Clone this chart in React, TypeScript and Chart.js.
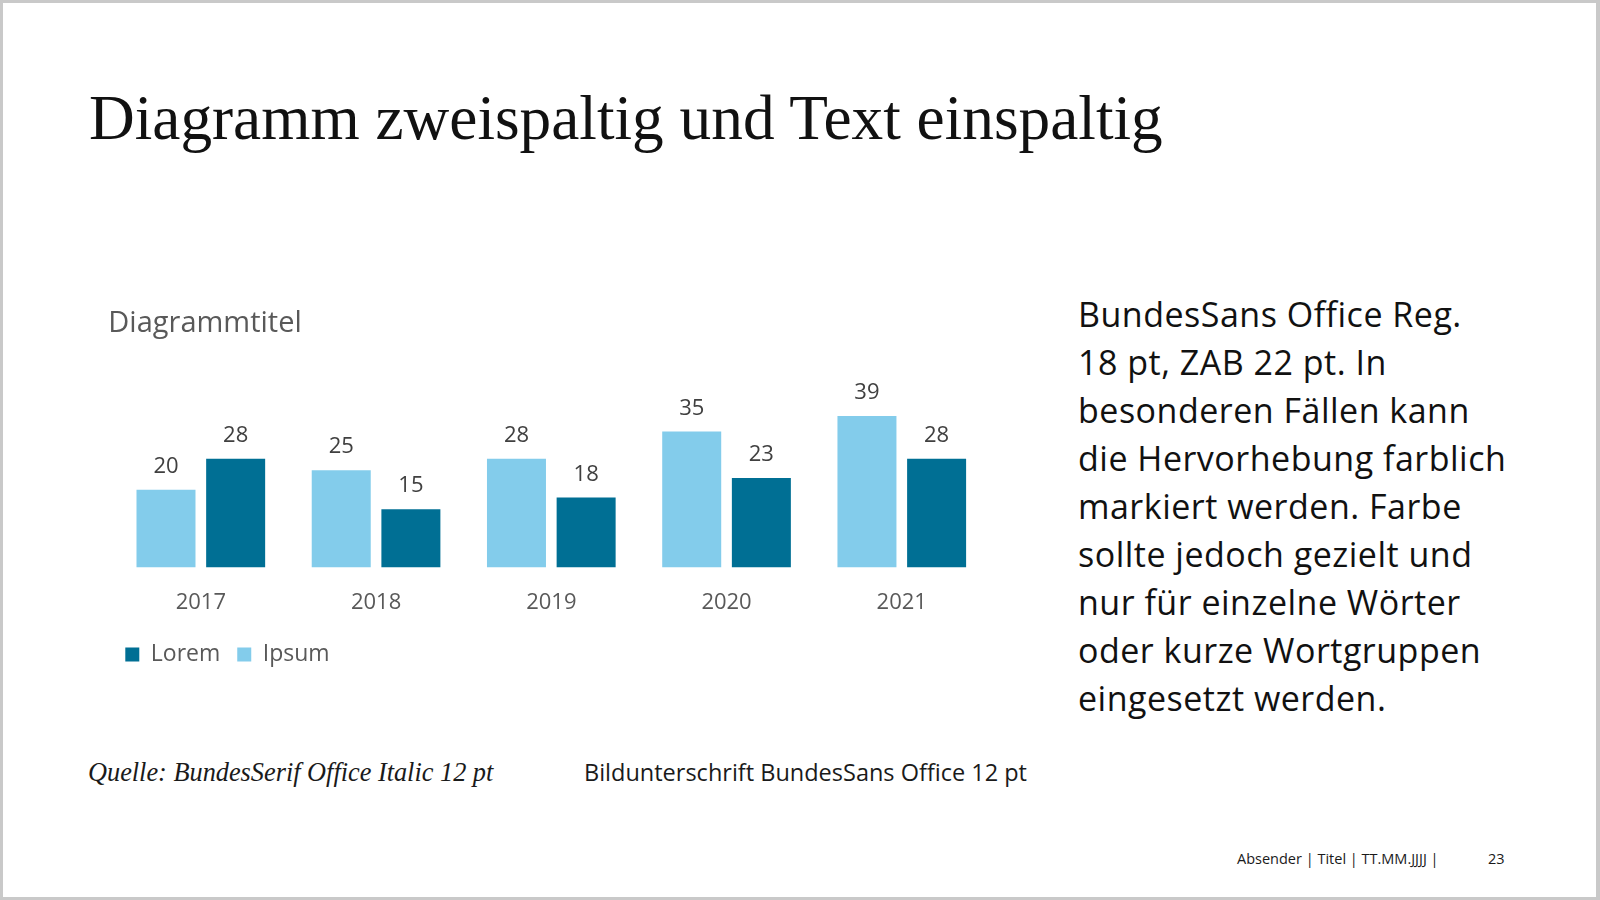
import React, { useEffect, useRef } from "react";
import { Chart, registerables } from "chart.js";

Chart.register(...registerables);

const categories = ["2017", "2018", "2019", "2020", "2021"];
const ipsumValues = [20, 25, 28, 35, 39];
const loremValues = [28, 15, 18, 23, 28];
const seriesNames = ["Ipsum", "Lorem"];
const chartTitle = "Diagrammtitel";

const slideTitle = "Diagramm zweispaltig und Text einspaltig";
const paragraphLines = [
  "BundesSans Office Reg.",
  "18 pt, ZAB 22 pt. In",
  "besonderen Fällen kann",
  "die Hervorhebung farblich",
  "markiert werden. Farbe",
  "sollte jedoch gezielt und",
  "nur für einzelne Wörter",
  "oder kurze Wortgruppen",
  "eingesetzt werden.",
];
const sourceText = "Quelle: BundesSerif Office Italic 12 pt";
const captionText = "Bildunterschrift BundesSans Office 12 pt";
const footerText = "Absender | Titel | TT.MM.JJJJ |";
const pageNumber = "23";

const LIGHT = "#83CCEB";
const DARK = "#006F94";
const SANS = '"Open Sans", "Noto Sans", sans-serif';

const valueLabels = {
  id: "valueLabels",
  afterDatasetsDraw(chart: any) {
    const ctx = chart.ctx;
    ctx.save();
    ctx.font = `22px ${SANS}`;
    ctx.fillStyle = "#404040";
    ctx.textAlign = "center";
    ctx.textBaseline = "alphabetic";
    chart.data.datasets.forEach((ds: any, i: number) => {
      const meta = chart.getDatasetMeta(i);
      meta.data.forEach((el: any, j: number) => {
        ctx.fillText(String(ds.data[j]), el.x, el.y - 17);
      });
    });
    ctx.restore();
  },
};

function BarChart() {
  const ref = useRef<HTMLCanvasElement | null>(null);
  useEffect(() => {
    if (!ref.current) return;
    const chart = new Chart(ref.current, {
      type: "bar",
      data: {
        labels: categories,
        datasets: [
          {
            label: seriesNames[0],
            data: ipsumValues,
            backgroundColor: LIGHT,
            borderWidth: 0,
            categoryPercentage: 0.795,
            barPercentage: 0.847,
          },
          {
            label: seriesNames[1],
            data: loremValues,
            backgroundColor: DARK,
            borderWidth: 0,
            categoryPercentage: 0.795,
            barPercentage: 0.847,
          },
        ],
      },
      options: {
        responsive: false,
        animation: false,
        layout: { padding: { left: 8.3, right: 10.6, top: 0, bottom: 0 } },
        scales: {
          x: {
            grid: { display: false, drawTicks: false },
            border: { display: false },
            ticks: {
              color: "#595959",
              font: { family: SANS, size: 22 },
              padding: 21.8,
            },
            afterFit: (s: any) => {
              s.height = 58.6;
            },
          },
          y: {
            min: 0,
            max: 48,
            grid: { display: false, drawTicks: false },
            border: { display: false },
            ticks: { display: false },
            afterFit: (s: any) => {
              s.width = 4.9;
            },
          },
        },
        plugins: {
          title: {
            display: true,
            text: chartTitle,
            align: "start",
            color: "#595959",
            font: { family: SANS, size: 29, weight: "normal" },
            padding: { top: 16.1, bottom: 40.16 },
          },
          legend: {
            position: "bottom",
            align: "start",
            labels: {
              boxWidth: 14,
              boxHeight: 14,
              padding: 17,
              color: "#595959",
              font: { family: SANS, size: 23 },
              sort: (a: any, b: any) => b.datasetIndex - a.datasetIndex,
            },
          },
          tooltip: { enabled: false },
        },
      },
      plugins: [valueLabels],
    } as any);
    return () => chart.destroy();
  }, []);
  return (
    <canvas
      ref={ref}
      width={900}
      height={386}
      style={{ position: "absolute", left: 100, top: 290, width: 900, height: 386 }}
    />
  );
}

export default function App() {
  return (
    <div
      style={{
        position: "fixed",
        left: 0,
        top: 0,
        width: 1600,
        height: 900,
        background: "#fff",
        overflow: "hidden",
      }}
    >
      <div
        style={{
          position: "absolute",
          left: 89,
          top: 86.5,
          fontFamily: '"Liberation Serif", serif',
          fontSize: 63.3,
          lineHeight: "63px",
          color: "#111",
          whiteSpace: "nowrap",
        }}
      >
        {slideTitle}
      </div>
      <BarChart />
      <div
        style={{
          position: "absolute",
          left: 1078,
          top: 289.6,
          fontFamily: SANS,
          fontSize: 34,
          letterSpacing: "0.5px",
          lineHeight: "48px",
          color: "#111",
          whiteSpace: "nowrap",
        }}
      >
        {paragraphLines.map((l, i) => (
          <div key={i}>{l}</div>
        ))}
      </div>
      <div
        style={{
          position: "absolute",
          left: 88,
          top: 760,
          fontFamily: '"Liberation Serif", serif',
          fontStyle: "italic",
          fontSize: 26.3,
          lineHeight: "26px",
          color: "#1a1a1a",
          whiteSpace: "nowrap",
        }}
      >
        {sourceText}
      </div>
      <div
        style={{
          position: "absolute",
          left: 584,
          top: 761.3,
          fontFamily: SANS,
          fontSize: 23.5,
          lineHeight: "23px",
          color: "#1a1a1a",
          whiteSpace: "nowrap",
        }}
      >
        {captionText}
      </div>
      <div
        style={{
          position: "absolute",
          left: 1237,
          top: 850.5,
          fontFamily: SANS,
          fontSize: 14.5,
          lineHeight: "15px",
          color: "#1a1a1a",
          whiteSpace: "nowrap",
        }}
      >
        {footerText}
      </div>
      <div
        style={{
          position: "absolute",
          left: 1488,
          top: 850.5,
          fontFamily: SANS,
          fontSize: 14.5,
          lineHeight: "15px",
          color: "#1a1a1a",
          whiteSpace: "nowrap",
        }}
      >
        {pageNumber}
      </div>
      <div
        style={{
          position: "absolute",
          left: 0,
          top: 0,
          width: 1600,
          height: 900,
          boxSizing: "border-box",
          borderStyle: "solid",
          borderColor: "#c9c9c9",
          borderWidth: "3px 4px 3px 3px",
          pointerEvents: "none",
        }}
      />
    </div>
  );
}
